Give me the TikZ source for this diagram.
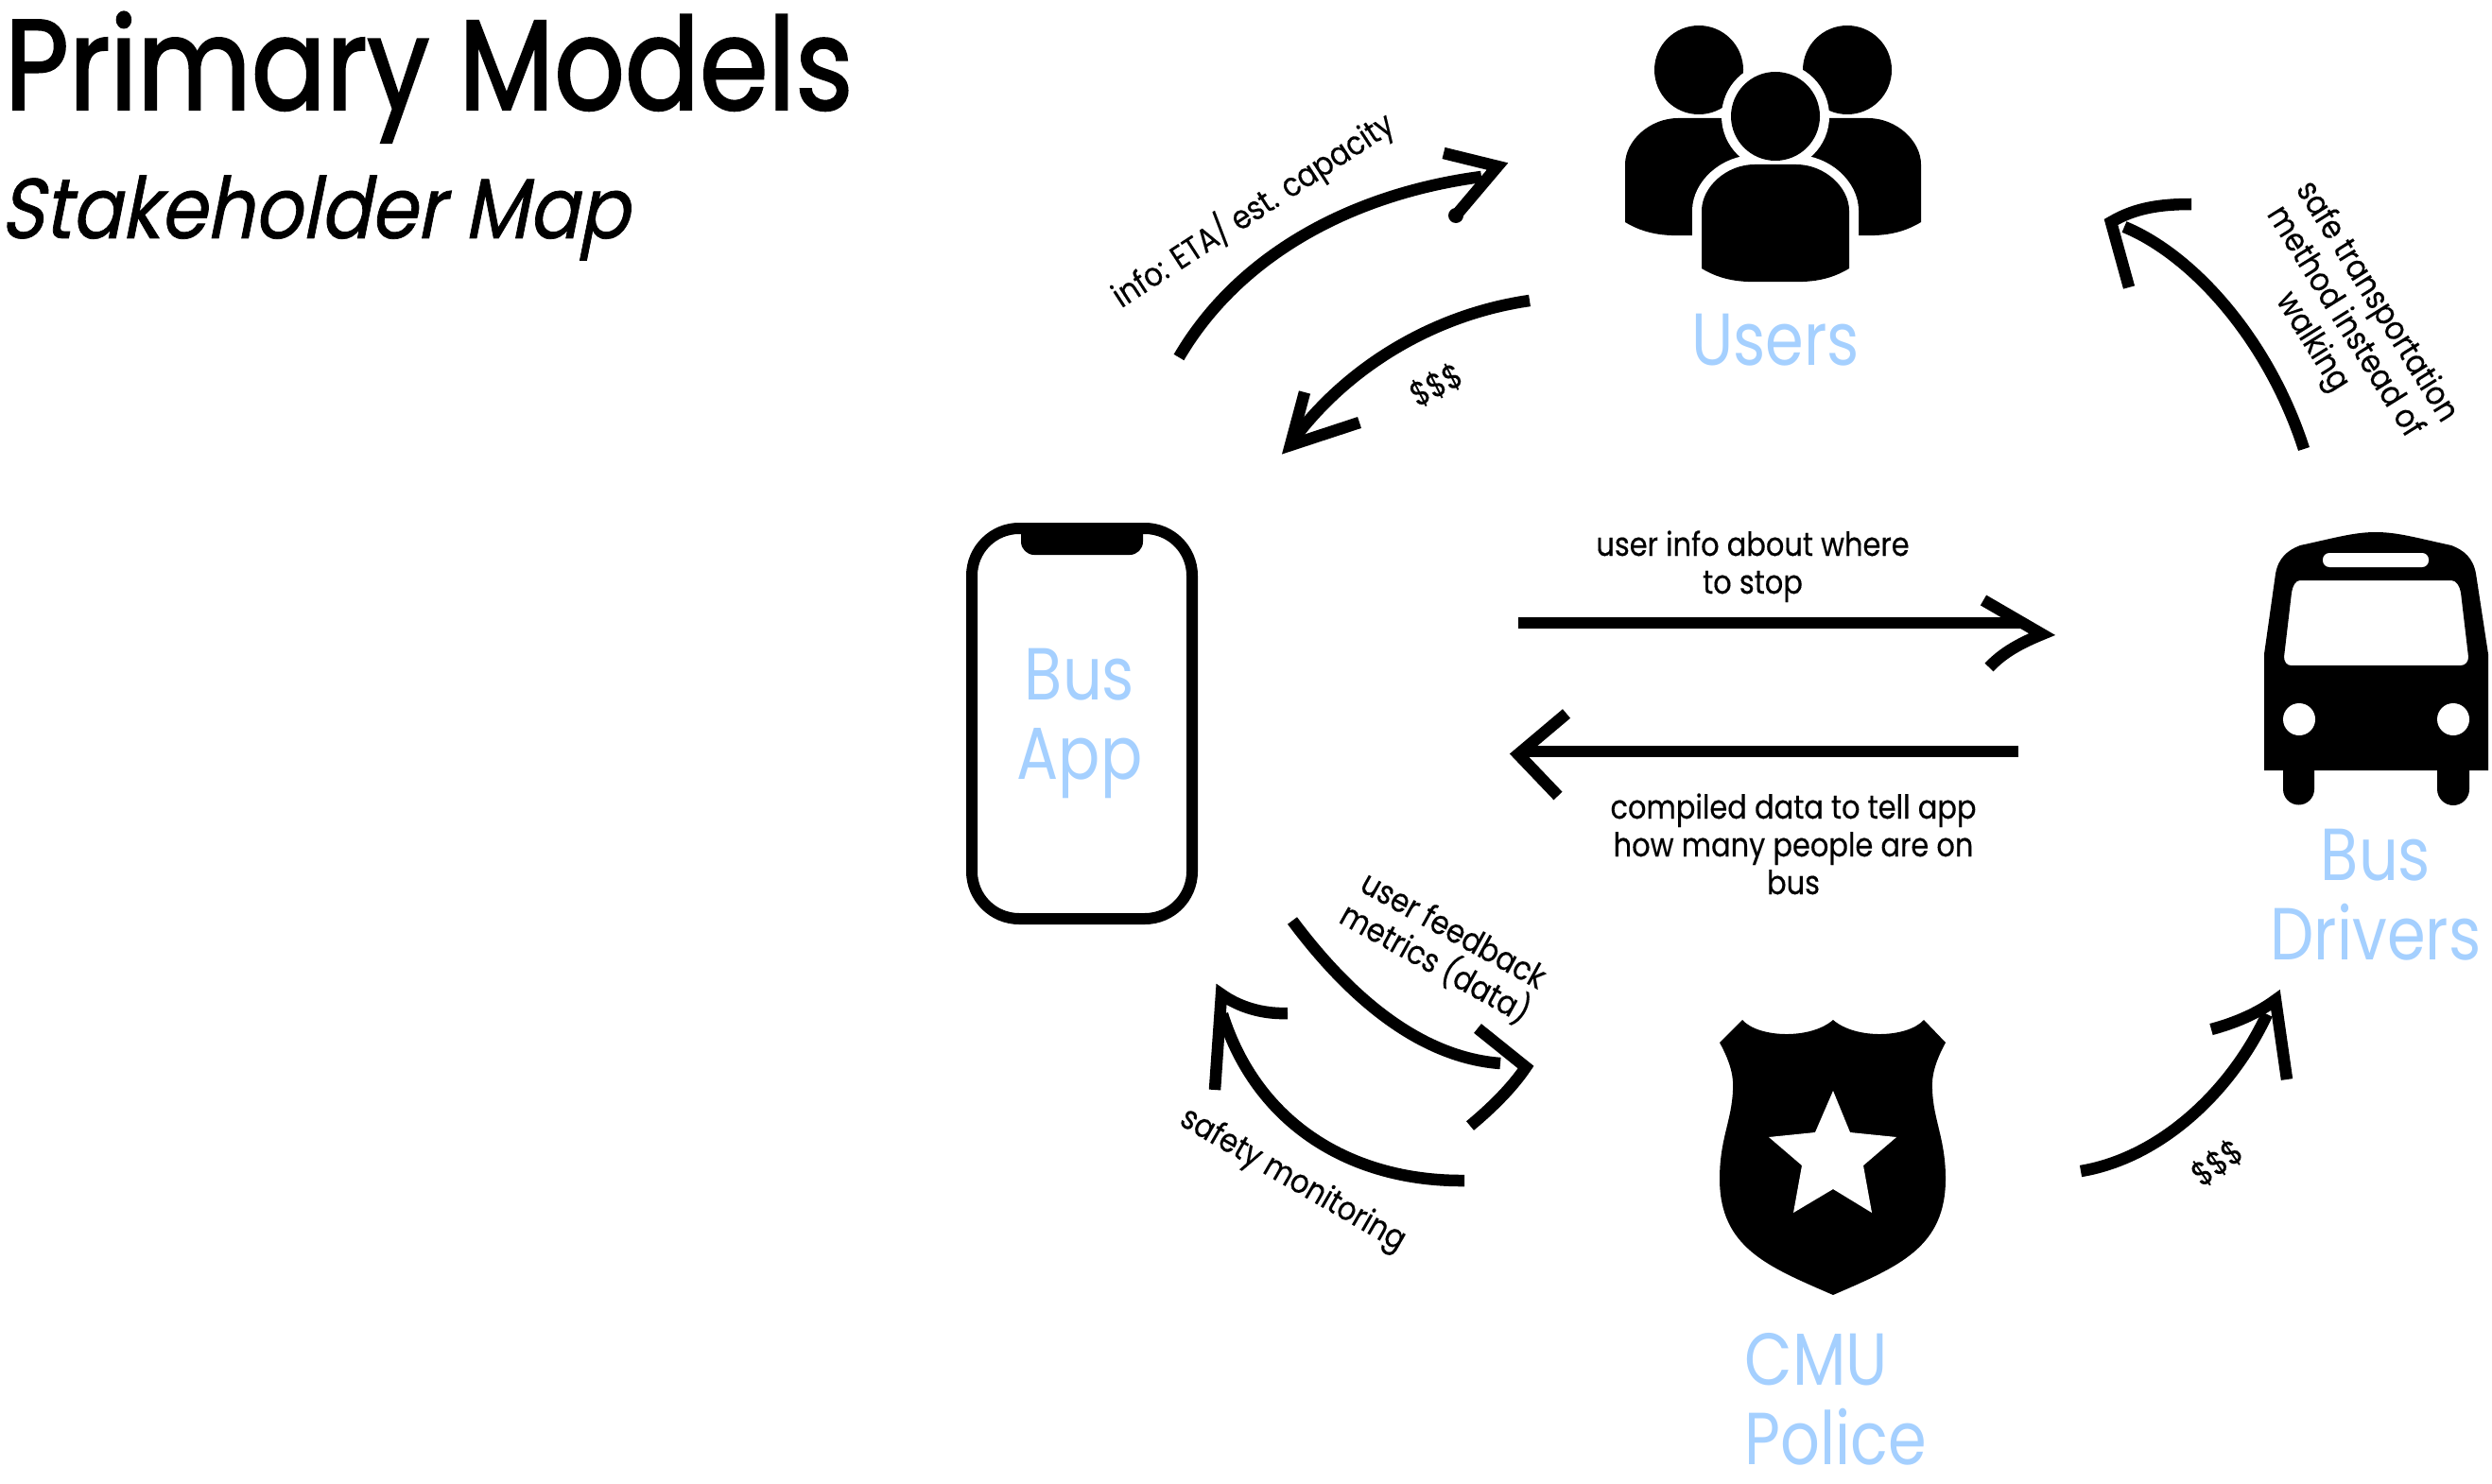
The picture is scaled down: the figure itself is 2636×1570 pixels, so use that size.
\documentclass[tikz,border=0pt]{standalone}
\usepackage{fontspec}
\setmainfont[FakeStretch=0.84]{Poppins}
\newfontfamily\titlefam[FakeStretch=0.86,FakeBold=1.6]{Poppins}
\newfontfamily\subfam[FakeStretch=0.876,FakeBold=0.8,FakeSlant=0.2]{Poppins}
\newfontfamily\smallfam[FakeStretch=0.87,FakeBold=0.3]{Poppins}
\definecolor{lab}{HTML}{A5D0FF}
\newcommand{\personicon}[2]{%
  \begin{scope}[shift={(#1,#2)}]
    \draw[white,line width=20pt,line join=round] (0,0) circle[radius=47];
    \draw[white,line width=20pt,line join=round] (-78,161) -- (-78,100) .. controls (-78,75) and (-52,51) .. (-22,51) -- (22,51) .. controls (52,51) and (78,75) .. (78,100) -- (78,161) .. controls (50,178) and (25,175) .. (0,175) .. controls (-25,175) and (-50,178) .. (-78,161) -- cycle;
    \fill[black] (0,0) circle[radius=47];
    \fill[black] (-78,161) -- (-78,100) .. controls (-78,75) and (-52,51) .. (-22,51) -- (22,51) .. controls (52,51) and (78,75) .. (78,100) -- (78,161) .. controls (50,178) and (25,175) .. (0,175) .. controls (-25,175) and (-50,178) .. (-78,161) -- cycle;
  \end{scope}}
\tikzset{
  x=1pt,y=-1pt,
  flow/.style={line width=12.5pt,line cap=butt,black},
  head/.style={line width=12.5pt,line cap=butt,line join=miter,miter limit=10,black},
  titletext/.style={font=\titlefam\fontsize{136}{150}\selectfont,anchor=base west,inner sep=0},
  subtext/.style={font=\subfam\fontsize{90}{100}\selectfont,anchor=base west,inner sep=0},
  stake/.style={font=\fontsize{78}{84}\selectfont,text=lab,inner sep=0,anchor=base},
  flowlabel/.style={font=\smallfam\fontsize{35}{40}\selectfont,align=center,inner sep=0}
}
\begin{document}
\begin{tikzpicture}
\useasboundingbox (0,0) rectangle (2636,1570);
\fill[white] (0,0) rectangle (2636,1570);
% titles
\node[titletext] (title) at (5,116) {Primary Models};
\node[subtext] (subtitle) at (0,252) {Stakeholder Map};
% users icon
\personicon{1797}{74}
\personicon{1954}{74}
\personicon{1878}{123}
\node[stake] (users) at (1878,386) {Users};
% phone
\draw[black,line width=12pt,rounded corners=50pt] (1028,559) rectangle (1261,972);
\fill[black] (1080,555) -- (1209,555) -- (1209,573) arc[start angle=0,end angle=90,radius=14] -- (1094,587) arc[start angle=90,end angle=180,radius=14] -- cycle;
\node[stake,align=center] (app) at (1142,824) {Bus\hspace{18pt}\\App};
% bus
\fill[black,even odd rule]
  (2395,815) -- (2395,692) -- (2407,607) .. controls (2410,590) and (2420,582) .. (2433,577) .. controls (2470,569) and (2490,563) .. (2513,563) .. controls (2536,563) and (2556,569) .. (2593,577) .. controls (2606,582) and (2616,590) .. (2619,607) -- (2632,692) -- (2632,815) -- cycle
  (2433,614) -- (2593,614) .. controls (2598,614) and (2602,620) .. (2603,627) -- (2611,695) .. controls (2611,700) and (2608,704) .. (2603,704) -- (2423,704) .. controls (2419,704) and (2416,700) .. (2416,695) -- (2424,627) .. controls (2425,620) and (2428,614) .. (2433,614) -- cycle;
\fill[white,rounded corners=7pt] (2457,585) rectangle (2569,600);
\fill[black] (2415,810) -- (2448,810) -- (2448,835) arc[start angle=0,end angle=180,radius=16.5] -- cycle;
\fill[black] (2578,810) -- (2612,810) -- (2612,835) arc[start angle=0,end angle=180,radius=17] -- cycle;
\fill[white] (2432,761) circle[radius=17];
\fill[white] (2595,761) circle[radius=17];
\node[stake,align=center] (drivers) at (2513,1015) {Bus\hspace{36pt}\\Drivers};
% shield
\fill[black] (1843,1079) .. controls (1860,1098) and (1915,1100) .. (1939,1079) .. controls (1963,1100) and (2018,1098) .. (2035,1079) -- (2058,1103) .. controls (2046,1125) and (2043,1140) .. (2044,1153) .. controls (2045,1185) and (2058,1205) .. (2058,1247) .. controls (2058,1320) and (2008,1340) .. (1939,1370) .. controls (1870,1340) and (1819,1320) .. (1819,1247) .. controls (1819,1205) and (1832,1185) .. (1833,1153) .. controls (1834,1140) and (1831,1125) .. (1819,1103) -- cycle;
\fill[white] (1939,1154) -- (1957,1198) -- (2006,1203) -- (1971,1233) -- (1980,1283) -- (1939,1258) -- (1897,1283) -- (1906,1233) -- (1871,1203) -- (1920,1198) -- cycle;
\node[stake,align=left] (police) at (1942,1549) {CMU\\Police};
% connector coordinates
\coordinate (a1s) at (1247,378); \coordinate (a1e) at (1567,187);
\coordinate (a2s) at (1618,318); \coordinate (a2e) at (1372,460);
\coordinate (a3s) at (2437,475); \coordinate (a3e) at (2247,240);
\coordinate (a4s) at (1606,659); \coordinate (a4e) at (2140,659);
\coordinate (a5s) at (2135,795); \coordinate (a5e) at (1610,795);
\coordinate (a6s) at (1367,974); \coordinate (a6e) at (1587,1125);
\coordinate (a7s) at (1549,1249); \coordinate (a7e) at (1293,1073);
\coordinate (a8s) at (2201,1239); \coordinate (a8e) at (2398,1073);
% connectors
\draw[flow] (a1s) .. controls (1310,270) and (1430,205) .. (a1e);
\draw[head] (1527,162) -- (1584,176) -- (1540,228);
\fill[black] (1540,228) circle[radius=8];
\draw[flow] (a2s) .. controls (1520,332) and (1430,385) .. (a2e);
\draw[head] (1380,415) -- (1365,471) -- (1438,447);
\draw[flow] (a3s) .. controls (2400,360) and (2320,270) .. (a3e);
\draw[head] (2318,216) .. controls (2285,216) and (2258,220) .. (2233,235) -- (2252,304);
\draw[flow] (a4s) -- (a4e);
\draw[head] (2098,635) -- (2160,671) .. controls (2138,680) and (2119,690) .. (2104,706);
\draw[flow] (a5s) -- (a5e);
\draw[head] (1657,755) -- (1606,798) -- (1648,842);
\draw[flow] (a6s) .. controls (1420,1045) and (1495,1118) .. (a6e);
\draw[head] (1563,1088) -- (1614,1129) .. controls (1600,1150) and (1578,1172) .. (1555,1191);
\draw[flow] (a7s) .. controls (1430,1250) and (1330,1190) .. (a7e);
\draw[head] (1285,1153) -- (1292,1052) .. controls (1310,1065) and (1335,1073) .. (1362,1072);
\draw[flow] (a8s) .. controls (2285,1225) and (2360,1155) .. (a8e);
\draw[head] (2339,1089) .. controls (2365,1082) and (2388,1072) .. (2407,1058) -- (2419,1142);
% labels
\node[flowlabel,rotate=33] (l1) at (1325,222) {info: ETA/ est. capacity};
\node[flowlabel,rotate=27] (l2) at (1519,407) {\$\$\$};
\node[flowlabel,rotate=-58] (l3) at (2479,341) {safe transportation\\method instead of\\walking};
\node[flowlabel,anchor=base] (l4) at (1854,628) {user info about where\\to stop};
\node[flowlabel,anchor=base] (l5) at (1897,946) {compiled data to tell app\\how many people are on\\bus};
\node[flowlabel,rotate=-29] (l6) at (1527,1003) {user feedback\\metrics (data)};
\node[flowlabel,rotate=-30] (l7) at (1367,1249) {safety monitoring};
\node[flowlabel,rotate=35] (l8) at (2345,1230) {\$\$\$};
\end{tikzpicture}
\end{document}
